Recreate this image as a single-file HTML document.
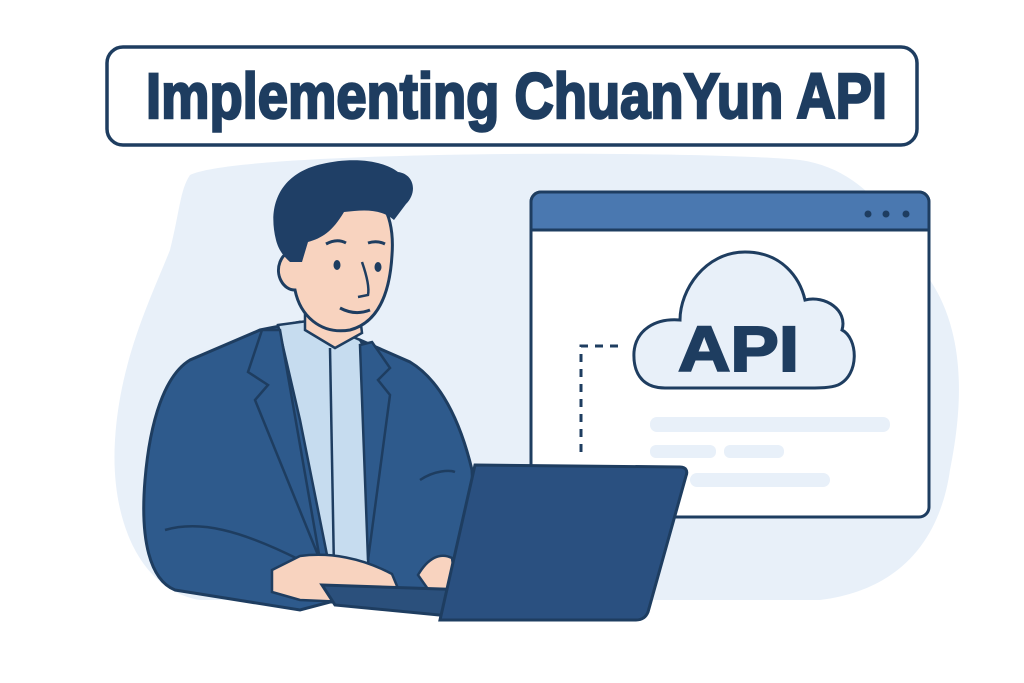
<!DOCTYPE html>
<html><head><meta charset="utf-8"><style>html,body{margin:0;padding:0;background:#fff}svg{display:block}</style></head>
<body>
<svg width="1024" height="683" viewBox="0 0 1024 683" xmlns="http://www.w3.org/2000/svg">
<rect width="1024" height="683" fill="#ffffff"/>
<path d="M190 175 C240 150 700 150 800 160 C870 170 900 230 930 280 C970 340 960 420 950 470 C940 540 900 590 820 600 L200 600 C140 590 110 520 115 440 C120 360 150 300 170 250 C180 210 180 190 190 175 Z" fill="#e8f0f9"/>
<rect x="107" y="47" width="810" height="98" rx="16" fill="#fff" stroke="#1e3d60" stroke-width="3.5"/>
<text x="146" y="118" font-family="Liberation Sans, sans-serif" font-weight="bold" font-size="64" fill="#1e3d60" stroke="#1e3d60" stroke-width="2.5" textLength="741" lengthAdjust="spacingAndGlyphs">Implementing ChuanYun API</text>
<rect x="531" y="192" width="398" height="325" rx="10" fill="#fff" stroke="#1e3d60" stroke-width="3"/>
<path d="M541 192 H919 A10 10 0 0 1 929 202 V230 H531 V202 A10 10 0 0 1 541 192 Z" fill="#4a78b0" stroke="#1e3d60" stroke-width="3"/>
<circle cx="868" cy="214" r="3.5" fill="#1e3d60"/><circle cx="886" cy="214" r="3.5" fill="#1e3d60"/><circle cx="906" cy="214" r="3.5" fill="#1e3d60"/>
<path d="M665 388 C640 388 633 370 634 352 C636 330 655 318 680 320 C680 290 705 252 745 252 C782 252 800 278 805 300 C825 295 848 310 842 330 C858 338 860 375 838 385 C830 388 820 388 810 388 Z" fill="#e8f0f9" stroke="#1e3d60" stroke-width="3"/>
<text x="678" y="371" font-family="Liberation Sans, sans-serif" font-weight="bold" font-size="64" fill="#1e3d60" stroke="#1e3d60" stroke-width="2" textLength="121" lengthAdjust="spacingAndGlyphs">API</text>
<path d="M618 346 H581 V455" fill="none" stroke="#1e3d60" stroke-width="3" stroke-dasharray="8 7"/>
<rect x="650" y="417" width="240" height="15" rx="7" fill="#e8f0f9"/>
<rect x="650" y="445" width="66" height="13" rx="6" fill="#e8f0f9"/>
<rect x="724" y="445" width="60" height="13" rx="6" fill="#e8f0f9"/>
<rect x="690" y="473" width="140" height="14" rx="7" fill="#e8f0f9"/>
<path d="M145 480 C150 420 165 375 190 360 L260 330 L300 322 L360 340 L410 362 C440 380 460 420 472 470 L478 600 L330 602 L300 610 L175 590 C150 580 140 540 145 480 Z" fill="#2e5a8c" stroke="#1e3d60" stroke-width="3"/>
<path d="M278 325 L315 320 L360 340 L372 360 L368 570 L330 570 L300 420 Z" fill="#c6dcef" stroke="#1e3d60" stroke-width="2.5"/>
<line x1="330" y1="348" x2="334" y2="570" stroke="#1e3d60" stroke-width="2.5"/>
<path d="M262 330 L248 372 L268 385 L255 400 L320 560 L280 330 Z" fill="#2e5a8c" stroke="#1e3d60" stroke-width="2.5"/>
<path d="M372 342 L390 368 L378 380 L390 395 L368 560 L360 345 Z" fill="#2e5a8c" stroke="#1e3d60" stroke-width="2.5"/>
<path d="M305 300 L305 330 L335 348 L362 333 L358 300 Z" fill="#f8d3bf" stroke="#1e3d60" stroke-width="2.5"/>
<path d="M285 225 C285 195 310 180 345 182 C380 185 395 215 392 255 C390 290 380 322 350 330 C320 335 300 315 295 290 C283 290 275 275 280 262 C285 250 290 255 290 255 Z" fill="#f8d3bf" stroke="#1e3d60" stroke-width="3"/>
<path d="M276 240 C266 200 285 172 322 164 C352 157 382 160 398 172 C414 174 418 192 406 204 L394 220 C380 208 362 210 344 212 C332 232 322 238 308 242 L302 262 L290 262 C282 255 278 248 276 240 Z" fill="#1f3f66"/>
<ellipse cx="337" cy="265" rx="3.5" ry="5" fill="#1e3d60"/>
<ellipse cx="378" cy="267" rx="3.5" ry="5" fill="#1e3d60"/>
<path d="M326 244 Q337 238 346 243 M368 243 Q377 240 385 244" stroke="#1e3d60" stroke-width="3" fill="none"/>
<path d="M362 262 Q370 285 368 295 L358 297" stroke="#1e3d60" stroke-width="2.5" fill="none"/>
<path d="M340 308 Q355 316 370 310" stroke="#1e3d60" stroke-width="3" fill="none"/>
<path d="M165 530 C200 520 240 530 300 560" stroke="#1e3d60" stroke-width="2.5" fill="none"/>
<path d="M420 480 C435 470 450 470 455 472" stroke="#1e3d60" stroke-width="2.5" fill="none"/>
<path d="M272 570 L300 556 C330 552 362 558 392 574 L402 598 L370 603 L300 600 L272 592 Z" fill="#f8d3bf" stroke="#1e3d60" stroke-width="2.5"/>
<path d="M418 575 C428 558 440 552 452 558 L456 588 L430 592 Z" fill="#f8d3bf" stroke="#1e3d60" stroke-width="2.5"/>
<path d="M322 585 L470 590 L470 618 L335 605 Z" fill="#2b507c" stroke="#1e3d60" stroke-width="3"/>
<path d="M475 465 L680 467 C686 467 688 471 686 476 L648 612 C646 617 642 620 636 620 L440 620 Z" fill="#2a5080" stroke="#1e3d60" stroke-width="3"/>
</svg>
</body></html>
